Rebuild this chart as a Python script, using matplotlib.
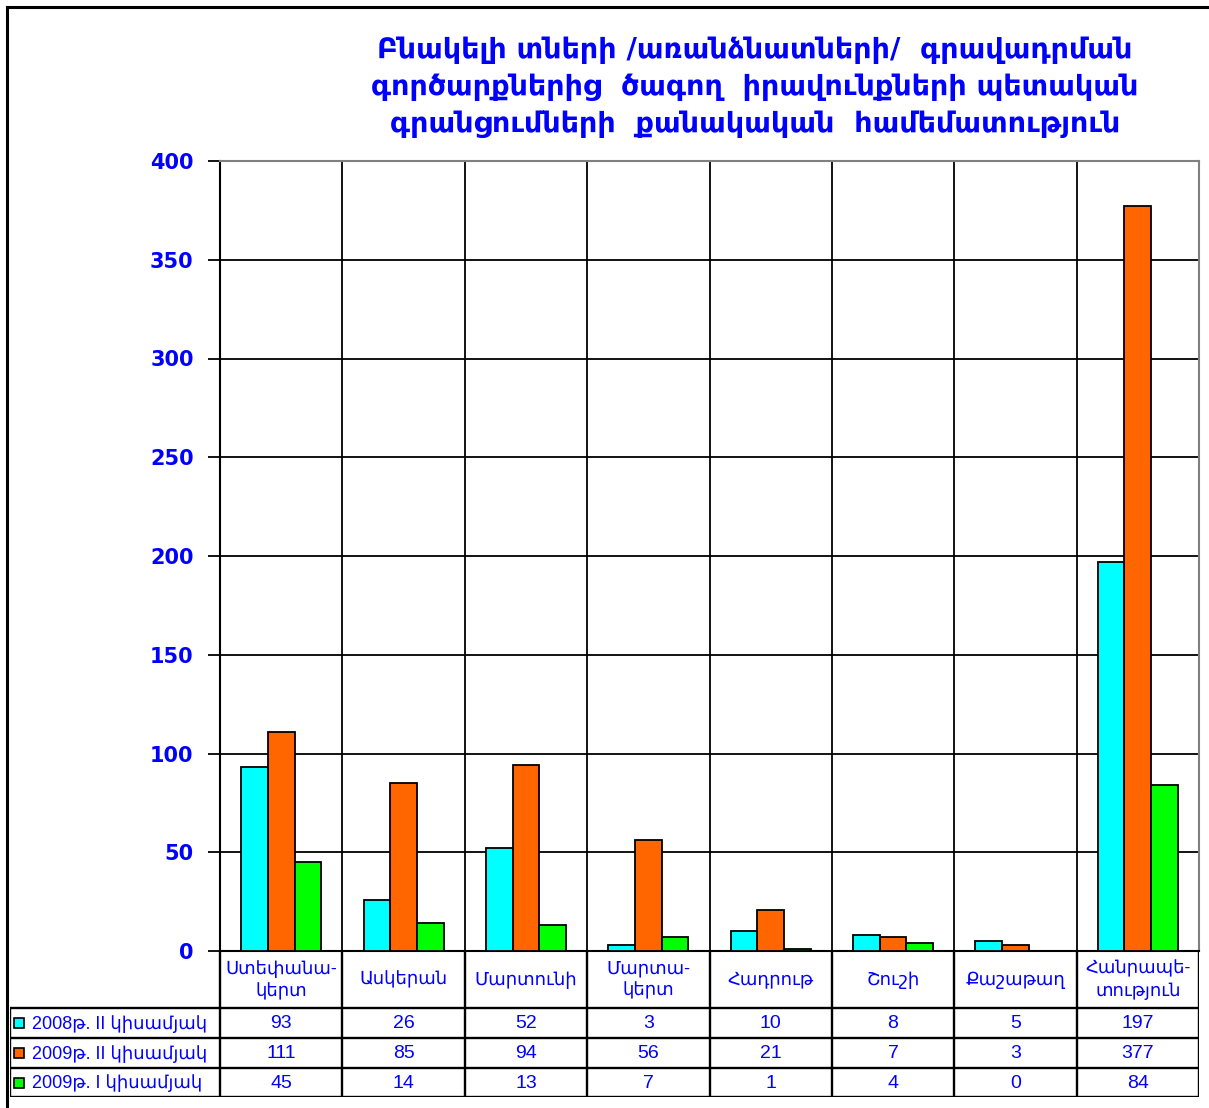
import matplotlib
matplotlib.use("Agg")
import matplotlib.pyplot as plt
from matplotlib.lines import Line2D
from matplotlib.patches import Rectangle
import numpy as np

plt.rcParams['font.family'] = ['Liberation Sans', 'DejaVu Sans']

title_lines = ["Բնակելի տների /առանձնատների/  գրավադրման",
               "գործարքներից  ծագող  իրավունքների պետական",
               "գրանցումների  քանակական  համեմատություն"]
categories = ["Ստեփանա-\nկերտ", "Ասկերան", "Մարտունի", "Մարտա-\nկերտ",
              "Հադրութ", "Շուշի", "Քաշաթաղ", "Հանրապե-\nտություն"]
series_names = ["2008թ. II կիսամյակ", "2009թ. II կիսամյակ", "2009թ. I կիսամյակ"]
s2008_II = [93, 26, 52, 3, 10, 8, 5, 197]
s2009_II = [111, 85, 94, 56, 21, 7, 3, 377]
s2009_I = [45, 14, 13, 7, 1, 4, 0, 84]
colors = ["#00FFFF", "#FF6600", "#00FF00"]
yticks = [0, 50, 100, 150, 200, 250, 300, 350, 400]

W, H = 1209, 1108
fig = plt.figure(figsize=(W / 100, H / 100), dpi=100)
BLUE = "#0000FF"

def fx(px):
    return px / W

def fy(py):
    return 1 - py / H

# Outer frame
fig.add_artist(Line2D([fx(7), fx(1209)], [fy(7), fy(7)], color="black", lw=2.2))
fig.add_artist(Line2D([fx(7), fx(7)], [fy(7), fy(1108)], color="black", lw=2.2))

# Title
for line, y in zip(title_lines, [50, 87, 124]):
    fig.text(fx(755), fy(y), line, ha="center", va="center", color=BLUE,
             fontsize=20.5, fontweight="bold", family=['DejaVu Sans'])

# Main axes
ax = fig.add_axes([fx(220), fy(951), (1199 - 220) / W, (951 - 161) / H])
series = [s2008_II, s2009_II, s2009_I]
x = np.arange(len(categories))
bw = 0.218
for k, (vals, c) in enumerate(zip(series, colors)):
    ax.bar(x + (k - 1) * bw, vals, width=bw, color=c, edgecolor="black",
           linewidth=1.3, zorder=3)
ax.set_xlim(-0.5, len(categories) - 0.5)
ax.set_ylim(0, 400)
ax.set_yticks(yticks)
ax.set_yticklabels([str(v) for v in yticks], color=BLUE, fontsize=15,
                   fontweight="bold", family=['DejaVu Sans'])
ax.tick_params(axis="y", length=9, width=1.3, pad=10, color="black")
ax.set_xticks([])
for v in yticks[1:-1]:
    ax.axhline(v, color="black", lw=1.3, zorder=1)
for b in np.arange(0.5, len(categories) - 0.5, 1):
    ax.axvline(b, color="black", lw=1.3, zorder=1)
ax.spines["top"].set_color("#808080")
ax.spines["right"].set_color("#808080")
for s in ["top", "right", "left", "bottom"]:
    ax.spines[s].set_linewidth(1.5)

# Table axes
tab = fig.add_axes([fx(10), fy(1097), (1199 - 10) / W, (1097 - 951) / H])
unit = (1199 - 220) / len(categories)
x0 = -0.5 - (220 - 10) / unit
tab.set_xlim(x0, len(categories) - 0.5)
tab.set_ylim(146, 0)
tab.axis("off")
row_edges = [0, 57, 87, 117, 146]
lw = 1.7
for b in np.arange(-0.5, len(categories), 1):
    tab.plot([b, b], [0, 146], color="black", lw=lw, solid_capstyle="butt")
tab.plot([x0, x0], [57, 146], color="black", lw=lw, solid_capstyle="butt")
for r in row_edges[1:]:
    tab.plot([x0, len(categories) - 0.5], [r, r], color="black", lw=lw,
             solid_capstyle="butt")
for i, cat in enumerate(categories):
    tab.text(i, 29, cat, ha="center", va="center", color=BLUE, fontsize=13,
             linespacing=1.35)
for k, (vals, name, c) in enumerate(zip(series, series_names, colors)):
    yc = (row_edges[k + 1] + row_edges[k + 2]) / 2
    for i, v in enumerate(vals):
        tab.text(i, yc + 1, str(v), ha="center", va="center", color=BLUE,
                 fontsize=14)
    tab.add_patch(Rectangle((x0 + 4 / unit, yc - 5), 10 / unit, 10,
                            facecolor=c, edgecolor="black", lw=1.2))
    tab.text(x0 + 22 / unit, yc + 1, name, ha="left", va="center", color=BLUE,
             fontsize=13)

fig.savefig("out.png", dpi=100)
